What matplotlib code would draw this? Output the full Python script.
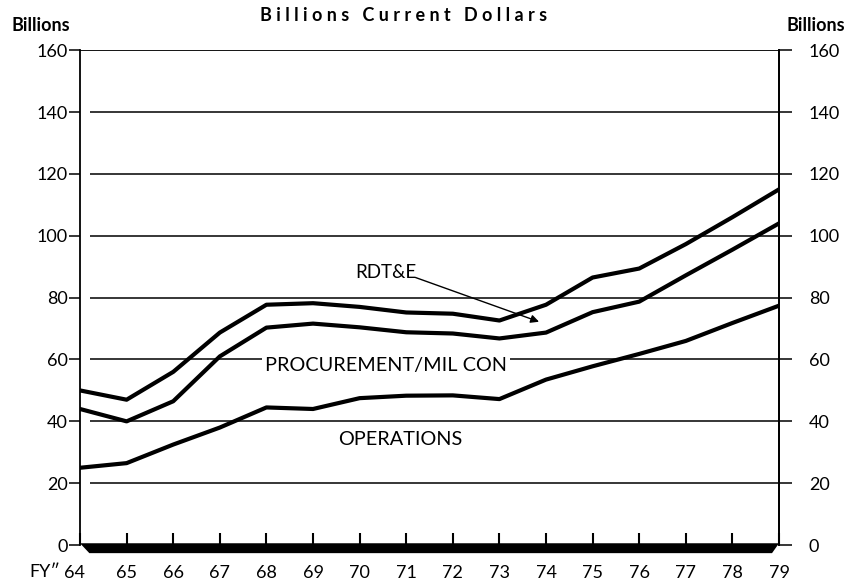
import numpy as np
import matplotlib.pyplot as plt
import matplotlib.transforms as mtransforms

plt.rcParams['font.family'] = ['Lato', 'DejaVu Sans']

years = np.arange(64, 80)
year_labels = ['64', '65', '66', '67', '68', '69', '70', '71', '72', '73', '74', '75', '76', '77', '78', '79']
# cumulative totals (billions, current dollars)
rdte = [50, 47, 56, 68.7, 77.7, 78.2, 77, 75.2, 74.8, 72.6, 77.7, 86.5, 89.4, 97.3, 106, 115]
procurement = [44, 40, 46.5, 61, 70.3, 71.6, 70.4, 68.8, 68.4, 66.8, 68.7, 75.3, 78.7, 87.2, 95.5, 104]
operations = [25, 26.5, 32.5, 38, 44.5, 44, 47.5, 48.3, 48.4, 47.2, 53.5, 57.8, 61.8, 66, 71.8, 77.4]
yticks = [0, 20, 40, 60, 80, 100, 120, 140, 160]

fig = plt.figure(figsize=(8.54, 5.83), dpi=100)
ax = fig.add_axes([0.0937, 0.065, 0.8185, 0.849])

# horizontal rules
ax.hlines(yticks[1:-1], years[0] + 0.22, years[-1], color='black', lw=1.1, zorder=1)
ax.hlines([yticks[-1]], years[0], years[-1], color='black', lw=1.3, zorder=1)

for s in [rdte, procurement, operations]:
    ax.plot(years, s, color='black', lw=3.0, solid_joinstyle='round', zorder=3)

# thick slanted base bar
x0, x1 = years[0], years[-1]
ax.fill([x0, x1, x1 - 0.15, x0 + 0.2], [0.6, 0.6, -2.6, -2.6], color='black',
        clip_on=False, zorder=4, lw=0)

ax.set_xlim(x0, x1)
ax.set_ylim(0, 160)
for side in ['top', 'bottom']:
    ax.spines[side].set_visible(False)
ax.spines['left'].set_linewidth(1.3)
ax.spines['right'].set_linewidth(1.3)

ax.set_yticks(yticks)
ax.set_yticklabels([str(v) for v in yticks], fontsize=13)
ax.tick_params(axis='y', direction='out', length=8, width=1.1, pad=1)

ax2 = ax.twinx()
ax2.set_ylim(0, 160)
ax2.set_yticks(yticks)
ax2.set_yticklabels([str(v) for v in yticks], fontsize=13)
ax2.tick_params(axis='y', direction='out', length=9.5, width=1.1, pad=12)
for side in ['top', 'bottom', 'left']:
    ax2.spines[side].set_visible(False)
ax2.spines['right'].set_linewidth(1.3)

ax.set_xticks(years)
ax.set_xticklabels(year_labels, fontsize=13)
ax.tick_params(axis='x', direction='in', length=9, width=1.5, pad=14)
first = ax.get_xticklabels()[0]
first.set_transform(first.get_transform() + mtransforms.ScaledTranslation(-0.06, 0, fig.dpi_scale_trans))

fig.text(0.472, 0.974, 'B i l l i o n s   C u r r e n t   D o l l a r s', ha='center', va='center',
         fontsize=13, fontweight='bold')
fig.text(0.013, 0.957, 'Billions', ha='left', va='center', fontsize=13, fontweight='bold')
fig.text(0.921, 0.957, 'Billions', ha='left', va='center', fontsize=13, fontweight='bold')
fig.text(0.034, 0.019, 'FY\u2033', ha='left', va='center', fontsize=13, family=['Lato', 'DejaVu Sans'])

ax.text(69.9, 88, 'RDT&E', fontsize=13.5, ha='left', va='center')
ax.annotate('', xy=(73.85, 72.2), xytext=(71.2, 86.5),
            arrowprops=dict(arrowstyle='-|>', color='black', lw=1, mutation_scale=12, shrinkA=0, shrinkB=0))
ax.text(70.57, 58.2, 'PROCUREMENT/MIL CON', fontsize=14.3, ha='center', va='center',
        bbox=dict(facecolor='white', edgecolor='none', pad=2))
ax.text(70.87, 34, 'OPERATIONS', fontsize=14.3, ha='center', va='center')

fig.savefig('out.png', dpi=100)
